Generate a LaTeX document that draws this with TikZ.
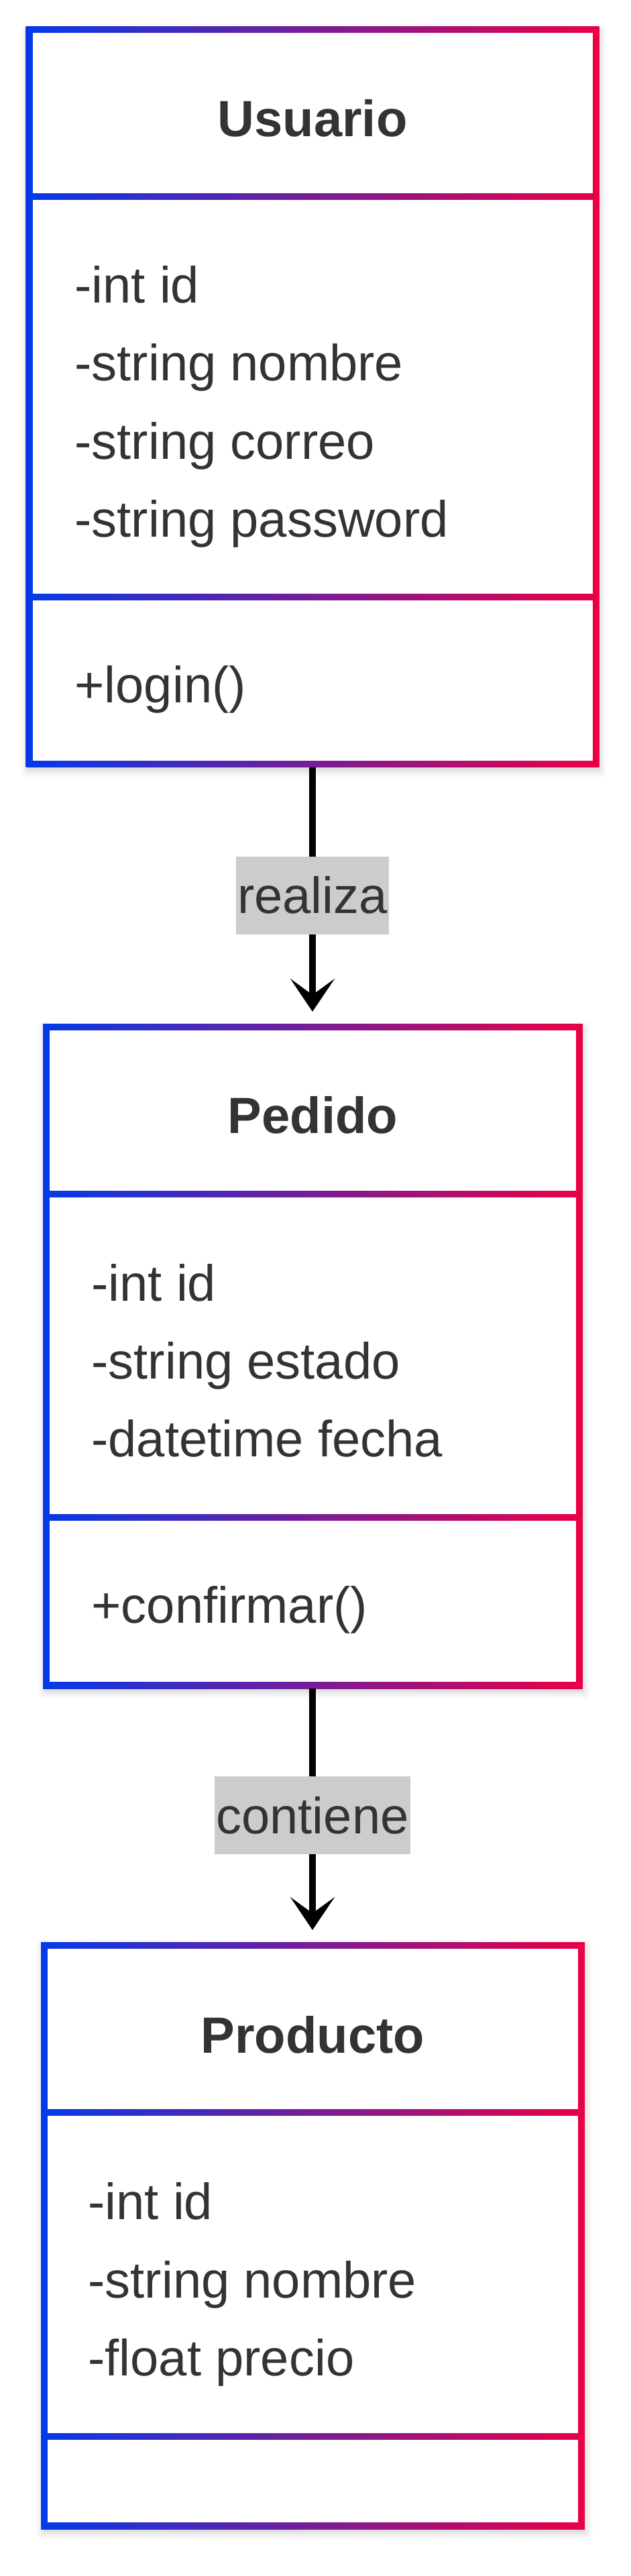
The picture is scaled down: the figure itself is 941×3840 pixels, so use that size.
\documentclass[tikz,border=0pt]{standalone}
\usepackage{fontspec}
\setmainfont{Liberation Sans}
\usepackage{xcolor}
\usepackage{tikz}
\usetikzlibrary{positioning}
\usetikzlibrary{arrows.meta}
\usetikzlibrary{shadows.blur}

\definecolor{umlBlue}{RGB}{4,58,232}
\definecolor{umlRed}{RGB}{234,0,70}
\definecolor{umlText}{RGB}{51,51,51}
\definecolor{umlLabel}{RGB}{204,204,204}

\begin{document}
\begin{tikzpicture}
  [
    x=0.5pt, y=-0.5pt,
    classFrame/.style={left color=umlBlue, right color=umlRed,
      blur shadow={shadow xshift=1pt, shadow yshift=-3pt,
        shadow blur radius=5pt, shadow opacity=18}},
    cell/.style={fill=white},
    classTitle/.style={inner sep=0pt, anchor=base, text=umlText,
      font=\fontsize{38}{46}\selectfont\bfseries},
    classField/.style={inner sep=0pt, anchor=base west, text=umlText,
      font=\fontsize{38}{46}\selectfont},
    relLabel/.style={fill=umlLabel, text=umlText, inner xsep=1pt,
      inner ysep=0pt, minimum height=58pt, font=\fontsize{38}{46}\selectfont},
    relArrow/.style={draw=black, line width=5pt,
      -{Stealth[length=24.5pt, width=33pt, inset=12pt]}, shorten >=9pt}
  ]
  \useasboundingbox (0,0) rectangle (941,3840);

  % Usuario
  \shade[classFrame] (38.5,39) rectangle (893.5,1143.5);
  \fill[cell] (48.5,49)  rectangle (883.5,288);
  \fill[cell] (48.5,298) rectangle (883.5,885);
  \fill[cell] (48.5,895) rectangle (883.5,1133.5);
  \coordinate (usuarioBot) at (466,1143.5);

  \node (usuario) at (466,203) [classTitle] {Usuario};
  \node (ua1) at (111,451)  [classField] {-int id};
  \node (ua2) at (111,567)  [classField] {-string nombre};
  \node (ua3) at (111,684)  [classField] {-string correo};
  \node (ua4) at (111,800)  [classField] {-string password};
  \node (um1) at (111,1047) [classField] {+login()};

  % Pedido
  \shade[classFrame] (64,1526) rectangle (869,2517);
  \fill[cell] (74,1536) rectangle (859,1775);
  \fill[cell] (74,1785) rectangle (859,2257);
  \fill[cell] (74,2267) rectangle (859,2507);
  \coordinate (pedidoTop) at (466,1526);
  \coordinate (pedidoBot) at (466,2517);

  \node (pedido) at (466.5,1689) [classTitle] {Pedido};
  \node (pa1) at (136,1939) [classField] {-int id};
  \node (pa2) at (136,2055) [classField] {-string estado};
  \node (pa3) at (136,2171) [classField] {-datetime fecha};
  \node (pm1) at (136,2419) [classField] {+confirmar()};

  % Producto
  \shade[classFrame] (61,2895) rectangle (872,3770);
  \fill[cell] (71,2905) rectangle (862,3144);
  \fill[cell] (71,3154) rectangle (862,3627);
  \fill[cell] (71,3637) rectangle (862,3760);
  \coordinate (productoTop) at (466,2895);

  \node (producto) at (466.5,3060) [classTitle] {Producto};
  \node (ra1) at (131,3308) [classField] {-int id};
  \node (ra2) at (131,3425) [classField] {-string nombre};
  \node (ra3) at (131,3541) [classField] {-float precio};

  % relaciones
  \draw [relArrow] (usuarioBot) -- (pedidoTop)
    node [relLabel, midway] (realizaLbl) {realiza};
  \draw [relArrow] (pedidoBot) -- (productoTop)
    node [relLabel, midway] (contieneLbl) {contiene};
\end{tikzpicture}
\end{document}
